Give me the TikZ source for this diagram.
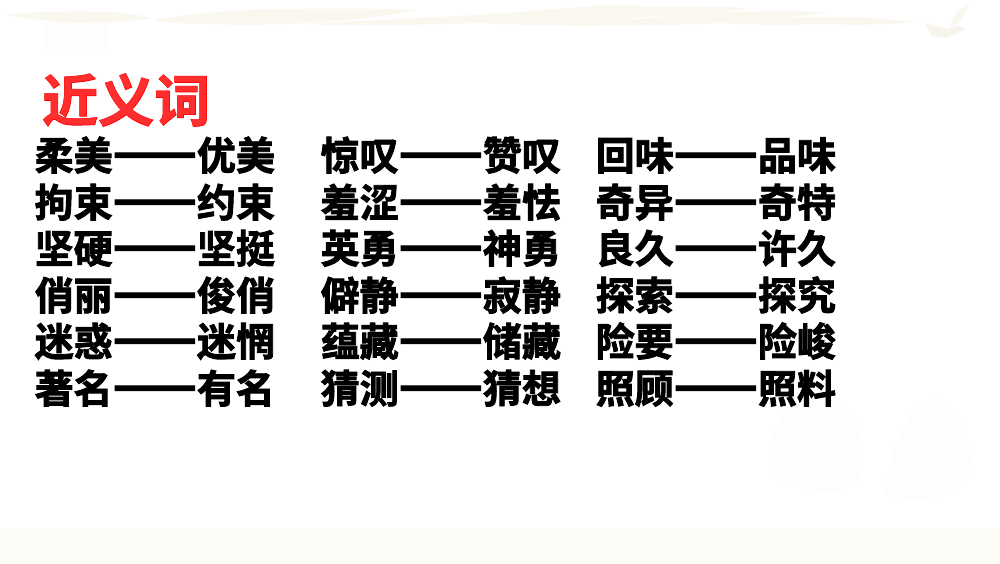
\documentclass[tikz,border=0pt]{standalone}
\usepackage{fontspec}
\setmainfont{Noto Sans CJK SC}[BoldFont={Noto Sans CJK SC Bold}]
\newfontfamily\cjkheavy{Noto Sans CJK SC Bold}[FakeBold=2.2]
\newfontfamily\cjktitle{Noto Sans CJK SC Bold}[FakeBold=1.6]
\newfontfamily\cjktitleinner{Noto Sans CJK SC Bold}
\definecolor{brushc}{HTML}{FAF7EE}
\definecolor{bandc}{HTML}{FEFCF7}
\definecolor{treec}{HTML}{FEFDFB}
\definecolor{bookc}{HTML}{F6F4EB}
\newcommand{\worddash}{{\fontsize{49.5}{50}\selectfont\raisebox{0.5pt}{——}}}
\tikzset{
  pair/.style={anchor=west,inner sep=0pt,text height=30pt,text depth=8pt,font=\cjkheavy\fontsize{39}{40}\selectfont,text=black},
  brush/.style={fill=brushc,draw=none},
  heading/.style={anchor=west,inner sep=0pt,font=\cjktitle\fontsize{56}{58}\selectfont,text=red},
  headinginner/.style={anchor=west,inner sep=0pt,font=\cjktitleinner\fontsize{56}{58}\selectfont,text=red!82!white}
}
\begin{document}
\begin{tikzpicture}[x=1pt,y=-1pt]
\useasboundingbox (0,0) rectangle (1000,563);
\fill[white] (0,0) rectangle (1000,563);
% background decoration
\fill[bandc] (0,528) rectangle (1000,563);
\fill[treec] (815,397) .. controls (860,400) and (870,450) .. (860,480) .. controls (840,500) and (790,490) .. (770,470) .. controls (762,440) and (785,400) .. (815,397) -- cycle;
\fill[treec] (935,397) .. controls (970,420) and (980,470) .. (960,485) .. controls (935,505) and (910,500) .. (885,495) .. controls (890,450) and (905,410) .. (935,397) -- cycle;
\fill[treec] (45,23) rectangle (108,50);
\fill[brush] (3,15) .. controls (40,11) and (80,11) .. (108,12) .. controls (125,13) and (140,15) .. (153,18) .. controls (125,22) and (95,23) .. (70,23) .. controls (45,20) and (20,18) .. (3,15) -- cycle;
\fill[brush] (153,20) .. controls (190,14) and (225,11) .. (255,10) .. controls (310,8) and (370,8) .. (415,10) .. controls (385,17) and (345,21) .. (306,23) .. controls (270,25) and (235,25) .. (210,24) .. controls (190,24) and (165,23) .. (153,20) -- cycle;
\fill[brush] (306,24) .. controls (375,20) and (445,17) .. (510,13) .. controls (550,9) and (610,4) .. (641,5) .. controls (630,10) and (600,13) .. (574,15) .. controls (540,19) and (505,22) .. (472,23) .. controls (420,25) and (350,26) .. (306,24) -- cycle;
\fill[brush] (472,22) .. controls (505,15) and (540,10) .. (574,8) .. controls (635,6) and (700,6) .. (753,8) .. controls (720,13) and (680,15) .. (638,17) .. controls (625,20) and (610,25) .. (593,26) .. controls (550,25) and (500,25) .. (472,22) -- cycle;
\fill[brush] (593,25) .. controls (640,18) and (690,13) .. (734,12) .. controls (770,11) and (800,11) .. (830,12) .. controls (795,17) and (755,21) .. (721,23) .. controls (680,25) and (630,26) .. (593,25) -- cycle;
\fill[brush] (721,23) .. controls (755,19) and (795,17) .. (830,17) .. controls (860,17) and (890,19) .. (912,22) .. controls (885,25) and (850,25) .. (823,24) .. controls (790,25) and (750,25) .. (721,23) -- cycle;
\fill[bookc] (925,23) -- (948,29) -- (957,26) -- (966,29) -- (945,38) -- (932,36) -- cycle;
\fill[bookc!70!white] (950,27) .. controls (952,16) and (960,8) .. (968,4) .. controls (966,14) and (960,24) .. (950,27) -- cycle;
% title
\node[heading] (title) at (42,100) {近义词};
\node[headinginner] (titleinner) at (42,100) {近义词};
% column 1
\node[pair] (a1) at (34.5,159) {柔美\worddash 优美};
\node[pair] (a2) at (34.5,206) {拘束\worddash 约束};
\node[pair] (a3) at (34.5,252) {坚硬\worddash 坚挺};
\node[pair] (a4) at (34.5,299) {俏丽\worddash 俊俏};
\node[pair] (a5) at (34.5,345) {迷惑\worddash 迷惘};
\node[pair] (a6) at (34.5,392) {著名\worddash 有名};
% column 2
\node[pair] (b1) at (320.5,159) {惊叹\worddash 赞叹};
\node[pair] (b2) at (320.5,206) {羞涩\worddash 羞怯};
\node[pair] (b3) at (320.5,252) {英勇\worddash 神勇};
\node[pair] (b4) at (320.5,299) {僻静\worddash 寂静};
\node[pair] (b5) at (320.5,345) {蕴藏\worddash 储藏};
\node[pair] (b6) at (320.5,392) {猜测\worddash 猜想};
% column 3
\node[pair] (c1) at (595.5,159) {回味\worddash 品味};
\node[pair] (c2) at (595.5,206) {奇异\worddash 奇特};
\node[pair] (c3) at (595.5,252) {良久\worddash 许久};
\node[pair] (c4) at (595.5,299) {探索\worddash 探究};
\node[pair] (c5) at (595.5,345) {险要\worddash 险峻};
\node[pair] (c6) at (595.5,392) {照顾\worddash 照料};
\end{tikzpicture}
\end{document}
